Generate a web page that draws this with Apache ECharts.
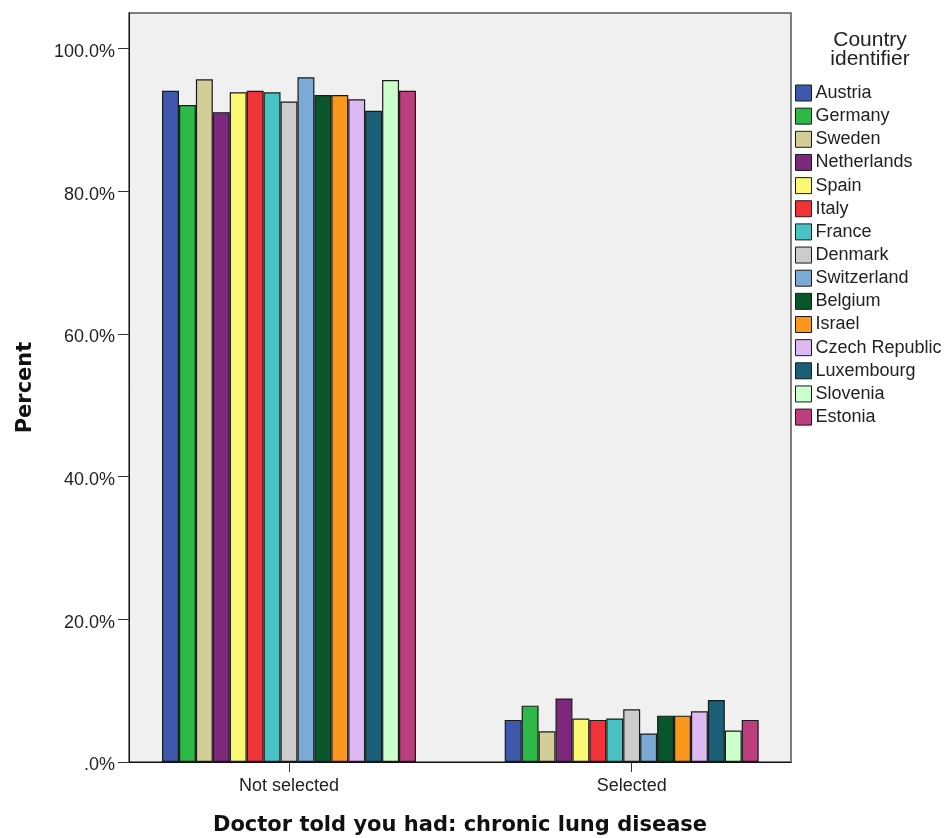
<!DOCTYPE html>
<html>
<head>
<meta charset="utf-8">
<script src="https://cdn.jsdelivr.net/npm/echarts@6/dist/echarts.min.js"></script>
<style>
html,body{margin:0;padding:0;background:#fff;}
#chart{width:946px;height:838px;}
</style>
</head>
<body>
<div id="chart"></div>
<script>
const categories = ['Not selected', 'Selected'];
const countries = ['Austria','Germany','Sweden','Netherlands','Spain','Italy','France','Denmark','Switzerland','Belgium','Israel','Czech Republic','Luxembourg','Slovenia','Estonia'];
const notSelected = [94.1, 92.1, 95.7, 91.1, 93.9, 94.1, 93.9, 92.6, 96.0, 93.5, 93.5, 92.9, 91.3, 95.6, 94.1];
const selected    = [5.9, 7.9, 4.3, 8.9, 6.1, 5.9, 6.1, 7.4, 4.0, 6.5, 6.5, 7.1, 8.7, 4.4, 5.9];
const yTicks = [0, 20, 40, 60, 80, 100];
const colors = ['#3E58AC','#2EB848','#D3CE97','#7C287D','#FBF873','#EF3338','#48C2C5','#CCCCCC','#7AAAD5','#0A562C','#F8981D','#DDB9F1','#1A5F76','#CCFFCC','#BB3F7F'];

const chart = echarts.init(document.getElementById('chart'), null, {renderer: 'canvas'});
const FONT = 'Liberation Sans, Arial, sans-serif';
const BOLD = 'DejaVu Sans, Verdana, sans-serif';

const series = countries.map((c, i) => ({
  name: c,
  type: 'bar',
  xAxisIndex: 1,
  yAxisIndex: 1,
  barGap: '0%',
  barCategoryGap: '25.9%',
  itemStyle: {color: colors[i], borderColor: '#1a1a1a', borderWidth: 1.2},
  emphasis: {disabled: true},
  data: [notSelected[i], selected[i]]
}));

chart.setOption({
  animation: false,
  color: colors,
  textStyle: {fontFamily: FONT},
  title: {
    text: 'Country\nidentifier',
    left: 865, top: 26,
    textAlign: 'center',
    textStyle: {fontFamily: FONT, fontSize: 21, fontWeight: 'normal', color: '#222', lineHeight: 19}
  },
  legend: {
    orient: 'vertical',
    left: 795, top: 84,
    icon: 'rect',
    itemWidth: 16, itemHeight: 16, itemGap: 5.15,
    padding: 0,
    data: countries,
    itemStyle: {borderColor: '#1a1a1a', borderWidth: 1},
    textStyle: {fontFamily: FONT, fontSize: 18, color: '#222', padding: [0,0,0,-1]}
  },
  grid: [
    {left: 129, right: 155, top: 13, bottom: 76, show: true, backgroundColor: '#F0F0F0', borderColor: '#555', borderWidth: 1.5, containLabel: false, outerBoundsMode: 'none'},
    {left: 117.65, right: 142.95, top: 13, bottom: 76, containLabel: false, outerBoundsMode: 'none'}
  ],
  xAxis: [
    {
      type: 'value', gridIndex: 0, min: 0, max: 1,
      axisLine: {show: true, onZero: false, lineStyle: {color: '#111', width: 1}},
      axisTick: {show: false}, axisLabel: {show: false}, splitLine: {show: false},
      name: 'Doctor told you had: chronic lung disease',
      nameLocation: 'middle', nameGap: 53,
      nameTextStyle: {fontFamily: BOLD, fontSize: 21, fontWeight: 'bold', color: '#111'}
    },
    {
      type: 'category', gridIndex: 1, data: categories,
      axisLine: {show: false},
      axisTick: {show: true, alignWithLabel: true, length: 10, lineStyle: {color: '#333'}},
      axisLabel: {fontFamily: FONT, fontSize: 18, color: '#222', margin: 15},
      splitLine: {show: false}
    }
  ],
  yAxis: [
    {
      type: 'value', gridIndex: 0, min: 0, max: 105,
      axisLine: {show: true, lineStyle: {color: '#111', width: 1}},
      axisTick: {show: true, length: 11, customValues: yTicks, lineStyle: {color: '#333'}},
      axisLabel: {
        fontFamily: FONT, fontSize: 18, color: '#222', margin: 14, customValues: yTicks,
        formatter: v => '{a|' + (v === 0 ? '.0%' : v.toFixed(1) + '%') + '}',
        rich: {a: {fontFamily: FONT, fontSize: 18, color: '#222', padding: [7, 0, 0, 0]}}
      },
      splitLine: {show: false},
      name: 'Percent', nameLocation: 'middle', nameGap: 93,
      nameTextStyle: {fontFamily: BOLD, fontSize: 21, fontWeight: 'bold', color: '#111'}
    },
    {
      type: 'value', gridIndex: 1, min: 0, max: 105, show: false,
      splitLine: {show: false}
    }
  ],
  series: series
});
</script>
</body>
</html>
